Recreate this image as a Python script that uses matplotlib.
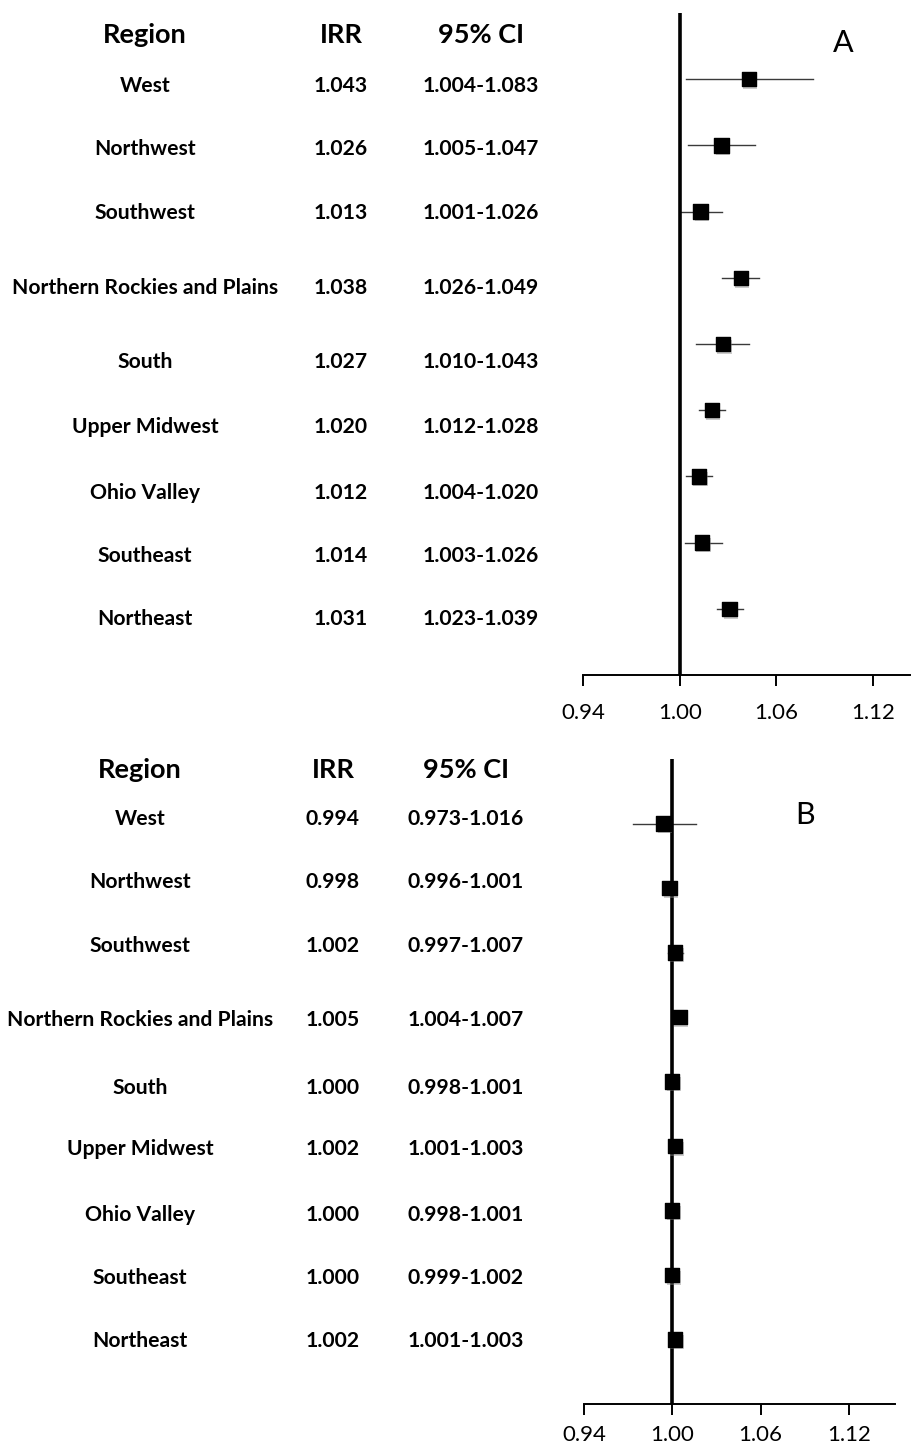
import matplotlib
matplotlib.use("Agg")
import matplotlib.pyplot as plt
import matplotlib.patheffects as pe

plt.rcParams['font.family'] = ['Lato', 'DejaVu Sans']

regions = ["West", "Northwest", "Southwest", "Northern Rockies and Plains",
           "South", "Upper Midwest", "Ohio Valley", "Southeast", "Northeast"]

# panel A
irr_a = [1.043, 1.026, 1.013, 1.038, 1.027, 1.020, 1.012, 1.014, 1.031]
lo_a = [1.004, 1.005, 1.001, 1.026, 1.010, 1.012, 1.004, 1.003, 1.023]
hi_a = [1.083, 1.047, 1.026, 1.049, 1.043, 1.028, 1.020, 1.026, 1.039]

# panel B
irr_b = [0.994, 0.998, 1.002, 1.005, 1.000, 1.002, 1.000, 1.000, 1.002]
lo_b = [0.973, 0.996, 0.997, 1.004, 0.998, 1.001, 0.998, 0.999, 1.001]
hi_b = [1.016, 1.001, 1.007, 1.007, 1.001, 1.003, 1.001, 1.002, 1.003]

xticks = [0.94, 1.00, 1.06, 1.12]

W, H = 911, 1448
fig = plt.figure(figsize=(W / 100, H / 100), dpi=100)


def px_axes(left, top, right, bottom):
    return fig.add_axes([left / W, 1 - bottom / H, (right - left) / W, (bottom - top) / H])


def forest(ax, irr, lo, hi, xmax, letter, letter_xy, pad):
    rows = list(range(len(irr)))
    for y, l, h in zip(rows, lo, hi):
        ax.plot([l, h], [y, y], color='#3a3a3a', lw=1.0, zorder=2)
    ax.axvline(1.0, color='black', lw=2.6, zorder=3)
    ax.scatter(irr, rows, marker='s', s=105, color='black', zorder=4,
               path_effects=[pe.SimplePatchShadow(offset=(1, -2), shadow_rgbFace='0.55', alpha=0.45),
                             pe.Normal()])
    ax.set_xlim(0.94, xmax)
    ax.set_ylim(len(irr), -1)
    for s in ['left', 'right', 'top']:
        ax.spines[s].set_visible(False)
    ax.spines['bottom'].set_linewidth(1.4)
    ax.set_yticks([])
    ax.set_xticks(xticks)
    ax.set_xticklabels(["%.2f" % t for t in xticks])
    ax.tick_params(axis='x', direction='out', length=8, width=1.4, pad=pad, labelsize=16)
    ax.text(letter_xy[0], letter_xy[1], letter, transform=ax.transAxes, fontsize=22,
            ha='center', va='center')


def table(irr, lo, hi, cols, header_y, row_ys):
    region_x, irr_x, ci_x = cols
    for x, t in zip(cols, ["Region", "IRR", "95% CI"]):
        fig.text(x / W, 1 - header_y / H, t, fontsize=19.5, fontweight='bold', ha='center', va='center')
    for y, name, v, l, h in zip(row_ys, regions, irr, lo, hi):
        fig.text(region_x / W, 1 - y / H, name, fontsize=15.2, fontweight='bold', ha='center', va='center')
        fig.text(irr_x / W, 1 - y / H, "%.3f" % v, fontsize=15.2, fontweight='bold', ha='center', va='center')
        fig.text(ci_x / W, 1 - y / H, "%.3f-%.3f" % (l, h), fontsize=15.2, fontweight='bold',
                 ha='center', va='center')


ax_a = px_axes(583, 13, 910, 675)
forest(ax_a, irr_a, lo_a, hi_a, 0.94 + 0.18 * 327 / 290, "A", (0.795, 0.955), 12)
table(irr_a, lo_a, hi_a, (145, 341, 481), 35,
      [86, 149, 213, 288, 362, 427, 493, 556, 619])

ax_b = px_axes(584, 759, 895, 1404)
forest(ax_b, irr_b, lo_b, hi_b, 0.94 + 0.18 * 311 / 265, "B", (0.711, 0.913), 7)
table(irr_b, lo_b, hi_b, (140, 333, 466), 770,
      [819, 882, 946, 1020, 1088, 1149, 1215, 1278, 1341])

fig.savefig("out.png", dpi=100)
